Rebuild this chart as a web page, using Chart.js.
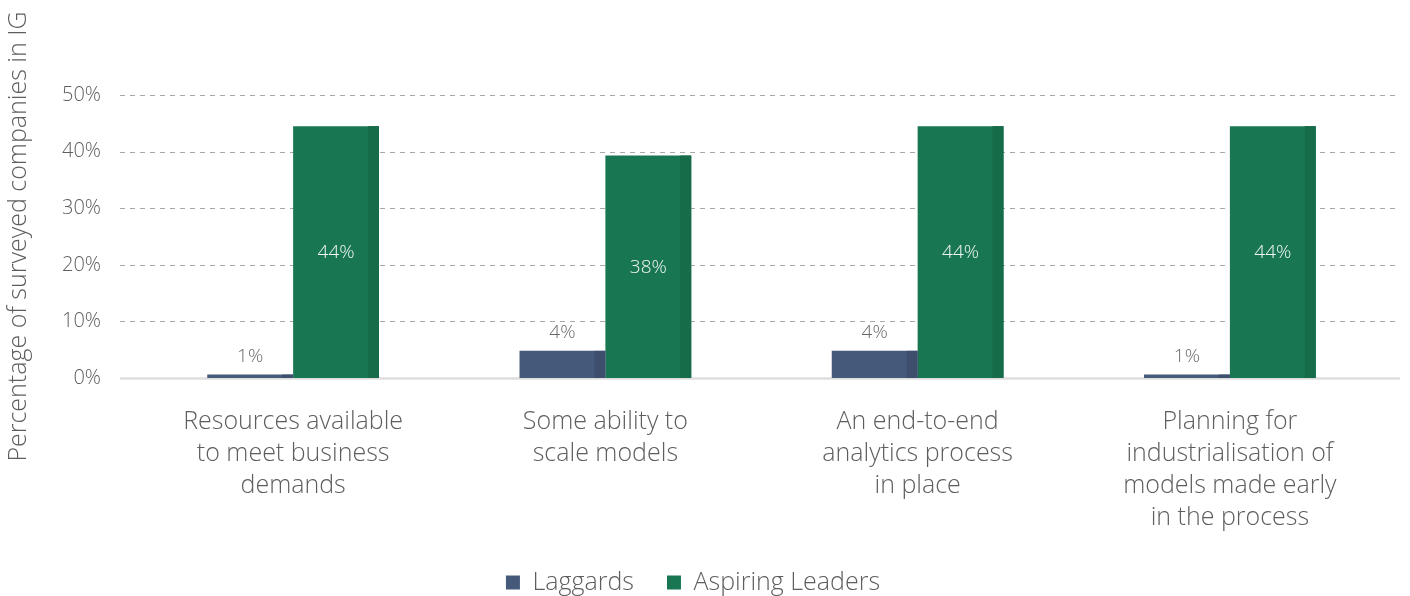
<!DOCTYPE html>
<html>
<head>
<meta charset="utf-8">
<script src="https://cdn.jsdelivr.net/npm/chart.js@4"></script>
<style>
  html, body { margin: 0; padding: 0; background: #fff; }
  #wrap { width: 1410px; height: 596px; overflow: hidden; }
  #box { width: 1410px; height: 605px; position: relative; }
</style>
</head>
<body>
<div id="wrap"><div id="box"><canvas id="chart"></canvas></div></div>
<script>
const categories = [
  ['Resources available', 'to meet business', 'demands'],
  ['Some ability to', 'scale models'],
  ['An end-to-end', 'analytics process', 'in place'],
  ['Planning for', 'industrialisation of', 'models made early', 'in the process']
];
const laggards = [0.6, 4.8, 4.8, 0.6];
const laggardsLabels = ['1%', '4%', '4%', '1%'];
const leaders = [44.5, 39.3, 44.5, 44.5];
const leadersLabels = ['44%', '38%', '44%', '44%'];
const yTicks = [0, 10, 20, 30, 40, 50];

const FONT = '"Open Sans"';
const TXT = '#5e5e5e';

// dashed gridlines + zero line, drawn wider than the chart area like the original
const gridPlugin = {
  id: 'grid',
  beforeDatasetsDraw(chart) {
    const { ctx, scales: { y } } = chart;
    const x0 = 120, x1 = 1400;
    ctx.save();
    yTicks.forEach(v => {
      const py = Math.round(y.getPixelForValue(v)) + 0.5;
      ctx.beginPath();
      if (v === 0) {
        ctx.setLineDash([]);
        ctx.strokeStyle = '#dedede';
        ctx.lineWidth = 2.5;
      } else {
        ctx.setLineDash([5, 5]);
        ctx.strokeStyle = '#a8a8a8';
        ctx.lineWidth = 1;
      }
      ctx.moveTo(x0, py);
      ctx.lineTo(x1, py);
      ctx.stroke();
    });
    ctx.restore();
  }
};

// darker strip on right side of each bar + value labels
const barDecor = {
  id: 'barDecor',
  afterDatasetsDraw(chart) {
    const { ctx } = chart;
    const shades = ['#3d4f6d', '#166b48'];
    ctx.save();
    chart.data.datasets.forEach((ds, di) => {
      chart.getDatasetMeta(di).data.forEach((bar, i) => {
        const w = bar.width;
        const right = bar.x + w / 2;
        const sw = Math.round(w * 0.13);
        ctx.fillStyle = shades[di];
        ctx.fillRect(right - sw, bar.y, sw, bar.base - bar.y);
        ctx.font = '300 19px ' + FONT;
        ctx.textAlign = 'center';
        ctx.textBaseline = 'middle';
        if (di === 0) {
          ctx.fillStyle = '#6a6a6a';
          ctx.fillText(laggardsLabels[i], bar.x, bar.y - 18);
        } else {
          ctx.fillStyle = '#f2f6f4';
          ctx.fillText(leadersLabels[i], bar.x, (bar.y + bar.base) / 2 + 1);
        }
      });
    });
    ctx.restore();
  }
};

new Chart(document.getElementById('chart'), {
  type: 'bar',
  data: {
    labels: categories,
    datasets: [
      { label: 'Laggards', data: laggards, backgroundColor: '#455a7a' },
      { label: 'Aspiring Leaders', data: leaders, backgroundColor: '#187752' }
    ]
  },
  options: {
    responsive: true,
    maintainAspectRatio: false,
    animation: false,
    categoryPercentage: 0.55,
    barPercentage: 1,
    layout: { padding: { top: 95, right: 24, bottom: 0, left: 0 } },
    plugins: {
      tooltip: { enabled: false },
      legend: {
        position: 'bottom',
        labels: {
          color: TXT,
          font: { family: FONT, size: 25, weight: 300 },
          boxWidth: 14, boxHeight: 14, padding: 33
        }
      }
    },
    scales: {
      x: {
        grid: { display: false, drawTicks: false },
        border: { display: false },
        ticks: {
          color: TXT,
          padding: 28,
          maxRotation: 0,
          autoSkip: false,
          font: { family: FONT, size: 25, weight: 300, lineHeight: 1.28 }
        },
        afterFit: s => { s.height = 159; }
      },
      y: {
        min: 0, max: 50,
        grid: { display: false, drawTicks: false },
        border: { display: false },
        afterBuildTicks: s => { s.ticks = yTicks.map(v => ({ value: v })); },
        afterFit: s => { s.width = 137; },
        ticks: {
          color: TXT,
          padding: 36,
          font: { family: FONT, size: 20, weight: 300 },
          callback: v => v + '%'
        },
        title: {
          display: true,
          text: 'Percentage of surveyed companies in IG',
          color: TXT,
          font: { family: FONT, size: 25, weight: 300 },
          padding: { top: 4, bottom: 0 }
        }
      }
    }
  },
  plugins: [gridPlugin, barDecor]
});
</script>
</body>
</html>
